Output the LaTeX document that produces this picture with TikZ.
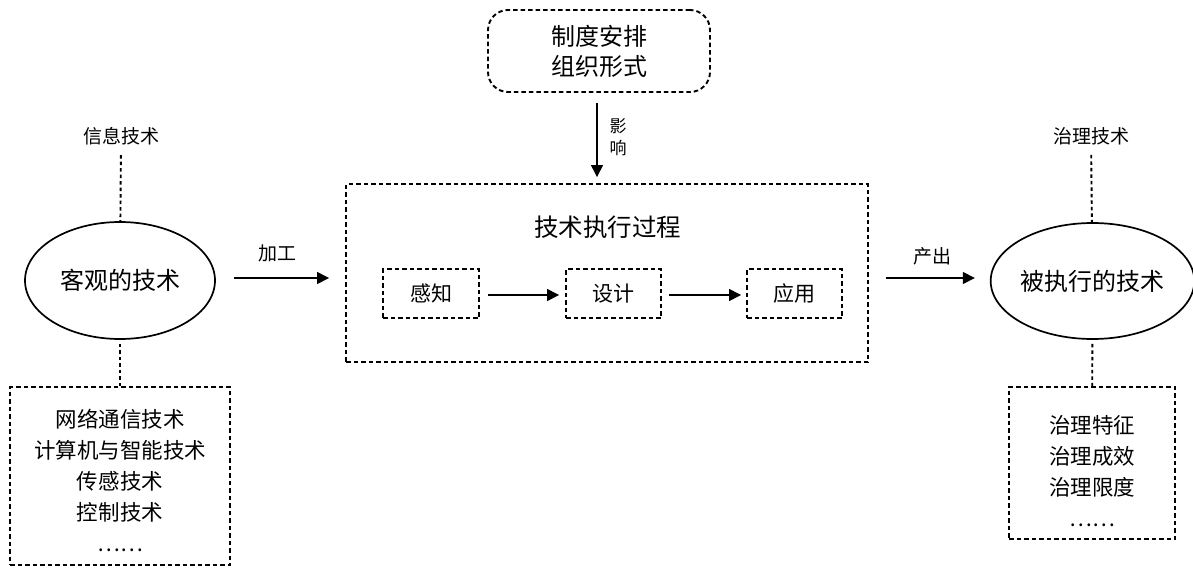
\documentclass[tikz,border=0pt]{standalone}
\usepackage{fontspec}
\setmainfont{Noto Sans CJK SC}
\usetikzlibrary{arrows.meta,shapes.geometric}
\begin{document}
\begin{tikzpicture}[x=1pt,y=-1pt,
  dbox/.style={draw, line width=1.9pt, dash pattern=on 4.5pt off 3pt, inner sep=0pt},
  dotl/.style={line width=1.9pt, dash pattern=on 3.5pt off 3pt},
  arr/.style={line width=1.4pt, -{Triangle[length=12pt,width=12pt]}},
  ell/.style={draw, ellipse, line width=1.7pt, inner sep=0pt, font=\fontsize{24}{28}\selectfont},
  lbl/.style={inner sep=0pt, font=\fontsize{19}{22}\selectfont},
  big/.style={font=\fontsize{24}{30}\selectfont, align=center},
  mid/.style={font=\fontsize{21.5}{31}\selectfont, align=center},
]
\useasboundingbox (0,0) rectangle (1193,570);

% top institutional box
\node[dbox, rounded corners=20pt, minimum width=222pt, minimum height=82pt, big] (inst) at (599,51) {制度安排\\组织形式};

% process box
\node[dbox, minimum width=522pt, minimum height=178pt] (proc) at (607,273) {};
\node[inner sep=0pt, font=\fontsize{24.5}{28}\selectfont] (title) at (607.5,227) {技术执行过程};
\node[dbox, minimum width=96pt, minimum height=49pt, font=\fontsize{21}{25}\selectfont] (s1) at (431,293.5) {感知};
\node[dbox, minimum width=95pt, minimum height=49pt, font=\fontsize{21}{25}\selectfont] (s2) at (613.5,293.5) {设计};
\node[dbox, minimum width=95pt, minimum height=49pt, font=\fontsize{21}{25}\selectfont] (s3) at (794.5,293.5) {应用};

% ellipses
\node[ell, minimum width=190pt, minimum height=117pt] (left) at (120,280.5) {客观的技术};
\node[ell, minimum width=191pt, minimum height=116pt] (right) at (1092.5,281) {被执行的技术};

% top labels
\node[lbl] (info) at (121,136) {信息技术};
\node[lbl] (gov) at (1091,136) {治理技术};

% bottom boxes
\node[dbox, minimum width=220pt, minimum height=178pt] (lbox) at (120,476) {};
\node[mid] (ltext) at (120,480.5) {网络通信技术\\计算机与智能技术\\传感技术\\控制技术\\……};
\node[dbox, minimum width=166pt, minimum height=152pt] (rbox) at (1092,463) {};
\node[mid] (rtext) at (1092,471) {治理特征\\治理成效\\治理限度\\……};

% connectors
\draw[dotl, shorten <=10pt] (info) -- (left);
\draw[dotl, shorten <=4pt] (left) -- (lbox);
\draw[dotl, shorten <=10pt] (gov) -- (right);
\draw[dotl, shorten <=4pt] (right) -- (rbox);

\draw[arr, shorten <=10pt, shorten >=6pt] (inst.south -| 597,0) coordinate (a0) -- (a0 |- proc.north);
\node[lbl, font=\fontsize{17}{22}\selectfont, align=center] (ying) at (618,137) {影\\响};

\draw[arr, shorten <=18pt, shorten >=16pt] (left.east |- 0,278) coordinate (b0) -- (b0 -| proc.west);
\node[lbl] (jg) at (277,253) {加工};
\draw[arr, shorten <=17pt, shorten >=15pt] (proc.east |- 0,278) coordinate (c0) -- (c0 -| right.west);
\node[lbl] (cc) at (932.5,256) {产出};

\draw[arr, shorten <=8pt, shorten >=6pt] (s1.east |- 0,295) -- (s2.west |- 0,295);
\draw[arr, shorten <=7pt, shorten >=5pt] (s2.east |- 0,295) -- (s3.west |- 0,295);
\end{tikzpicture}
\end{document}
